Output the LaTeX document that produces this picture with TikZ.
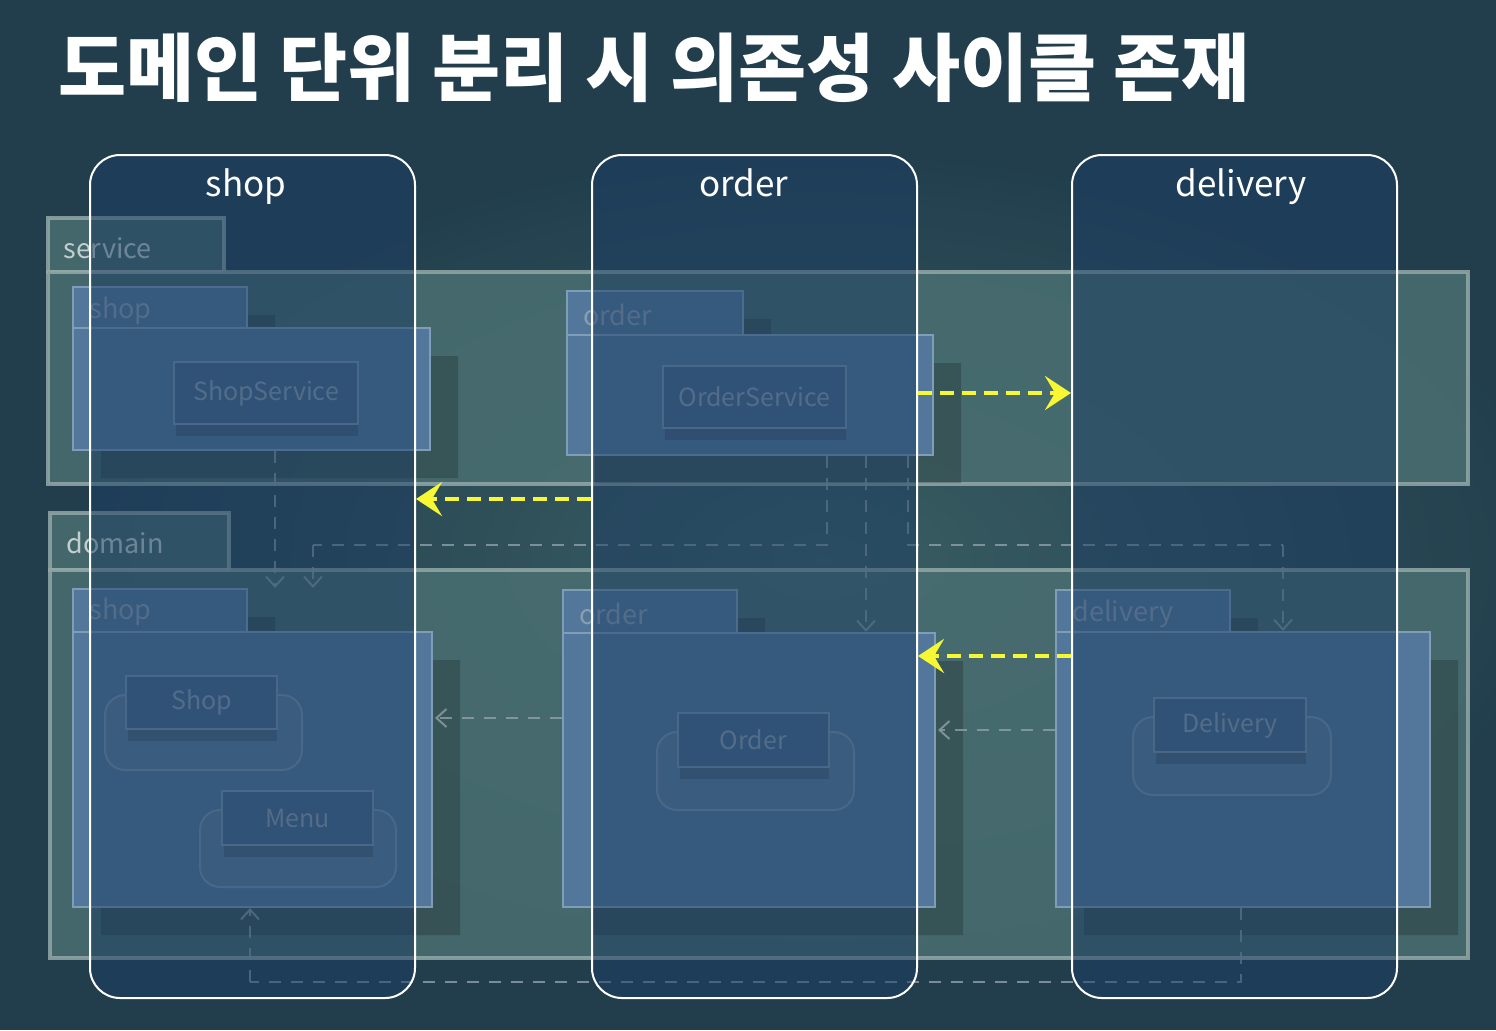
\documentclass[tikz,border=0pt]{standalone}
\usepackage{fontspec}
\setmainfont{Noto Sans CJK KR}
\newfontfamily\kr{Noto Sans CJK KR}
\usetikzlibrary{arrows.meta,fit}
\definecolor{bgA}{HTML}{223E4D}
\definecolor{bgB}{HTML}{3E6467}
\definecolor{bigfill}{HTML}{4A6F71}
\definecolor{bigline}{HTML}{93A8A8}
\definecolor{pkgfill}{HTML}{52779A}
\definecolor{pkgline}{HTML}{809DB8}
\definecolor{clsfill}{HTML}{46698B}
\definecolor{clsback}{HTML}{5A7C9B}
\definecolor{clsline}{HTML}{7893AD}
\definecolor{txtgray}{HTML}{8A9DB0}
\definecolor{biglbl}{HTML}{C2CFCF}
\definecolor{colfill}{HTML}{1C3D63}
\definecolor{depgray}{HTML}{8FA0AA}
\definecolor{yel}{HTML}{F7F733}
\begin{document}
\begin{tikzpicture}[x=0.5pt,y=-0.5pt,
  bigbox/.style={draw=bigline,draw opacity=0.85,line width=1.6pt,fill=bigfill,fill opacity=0.85,inner sep=0pt},
  pkgbox/.style={draw=pkgline,line width=1pt,fill=pkgfill,inner sep=0pt},
  pkgshadow/.style={fill=black,opacity=0.2},
  clsbox/.style={draw=clsline,line width=0.9pt,fill=clsfill,inner sep=0pt,font=\fontsize{12.5}{14}\selectfont,text=txtgray},
  clsbackbox/.style={draw=clsline,line width=1pt,fill=clsback,rounded corners=10pt,inner sep=0pt},
  clsshadow/.style={fill=black,opacity=0.18},
  biglabel/.style={anchor=west,inner sep=0pt,text=biglbl,font=\fontsize{13.5}{15}\selectfont},
  pkglabel/.style={anchor=west,inner sep=0pt,text=txtgray,font=\fontsize{13.5}{15}\selectfont},
  column/.style={draw=white,line width=1pt,rounded corners=15pt,fill=colfill,fill opacity=0.5,inner sep=0pt},
  collabel/.style={anchor=base,text=white,inner sep=0pt,font=\fontsize{17.5}{20}\selectfont},
  dep/.style={draw=depgray,draw opacity=0.8,line width=1pt,dash pattern=on 6pt off 5pt,-{Straight Barb[length=5pt,width=9pt]}},
  depline/.style={draw=depgray,draw opacity=0.8,line width=1pt,dash pattern=on 6pt off 5pt},
  yarrow/.style={draw=yel,line width=2.2pt,dash pattern=on 7pt off 4pt,-{Stealth[length=13pt,width=17pt,inset=5pt]}}
]
\useasboundingbox (0,0) rectangle (1496,1030);
% background
\fill[bgA] (0,0) rectangle (1496,1030);
\shade[inner color=bgB,outer color=bgA,opacity=0.85] (820,560) ellipse [x radius=760, y radius=420];

% big packages
\node[bigbox,fit={(48,218)(224,272)}] (svctab) {};
\node[bigbox,fit={(48,272)(1468,484)}] (svc) {};
\node[biglabel] (svclbl) at (63,248) {service};
\node[bigbox,fit={(50,513)(229,570)}] (domtab) {};
\node[bigbox,fit={(50,570)(1468,958)}] (dom) {};
\node[biglabel] (domlbl) at (66,543) {domain};

% package shadows
\fill[pkgshadow] (101,315) rectangle (275,356) (101,356) rectangle (458,478);
\fill[pkgshadow] (595,319) rectangle (771,363) (595,363) rectangle (961,483);
\fill[pkgshadow] (101,617) rectangle (275,660) (101,660) rectangle (460,935);
\fill[pkgshadow] (591,618) rectangle (765,661) (591,661) rectangle (963,935);
\fill[pkgshadow] (1084,618) rectangle (1258,660) (1084,660) rectangle (1458,935);

% service packages
\node[pkgbox,fit={(73,287)(247,328)}] (sshoptab) {};
\node[pkgbox,fit={(73,328)(430,450)}] (sshop) {};
\node[pkglabel] (sshoplbl) at (89,311) {shop};
\node[pkgbox,fit={(567,291)(743,335)}] (sordertab) {};
\node[pkgbox,fit={(567,335)(933,455)}] (sorder) {};
\node[pkglabel] (sorderlbl) at (583,315) {order};

% domain packages
\node[pkgbox,fit={(73,589)(247,632)}] (dshoptab) {};
\node[pkgbox,fit={(73,632)(432,907)}] (dshop) {};
\node[pkglabel] (dshoplbl) at (89,612) {shop};
\node[pkgbox,fit={(563,590)(737,633)}] (dordertab) {};
\node[pkgbox,fit={(563,633)(935,907)}] (dorder) {};
\node[pkglabel] (dorderlbl) at (579,614) {order};
\node[pkgbox,fit={(1056,590)(1230,632)}] (ddeltab) {};
\node[pkgbox,fit={(1056,632)(1430,907)}] (ddel) {};
\node[pkglabel] (ddellbl) at (1072,614) {delivery};

% classes
\fill[clsshadow] (176,424) rectangle (358,436);
\node[clsbox,fit={(174,362)(358,424)}] (ShopService) {};
\node[clsbox,draw=none,fill=none] at (ShopService.center) {ShopService};
\fill[clsshadow] (665,428) rectangle (846,440);
\node[clsbox,fit={(663,366)(846,428)}] (OrderService) {};
\node[clsbox,draw=none,fill=none] at (OrderService.center) {OrderService};

\node[clsbackbox,fit={(105,695)(302,770)}] (Shopback) {};
\fill[clsshadow] (128,729) rectangle (277,741);
\node[clsbox,fit={(126,676)(277,729)}] (Shop) {};
\node[clsbox,draw=none,fill=none] at (Shop.center) {Shop};

\node[clsbackbox,fit={(200,810)(396,887)}] (Menuback) {};
\fill[clsshadow] (224,845) rectangle (373,857);
\node[clsbox,fit={(222,791)(373,845)}] (Menu) {};
\node[clsbox,draw=none,fill=none] at (Menu.center) {Menu};

\node[clsbackbox,fit={(657,732)(854,810)}] (Orderback) {};
\fill[clsshadow] (680,767) rectangle (829,779);
\node[clsbox,fit={(678,713)(829,767)}] (Order) {};
\node[clsbox,draw=none,fill=none] at (Order.center) {Order};

\node[clsbackbox,fit={(1133,717)(1331,795)}] (Deliveryback) {};
\fill[clsshadow] (1156,752) rectangle (1306,764);
\node[clsbox,fit={(1154,698)(1306,752)}] (Delivery) {};
\node[clsbox,draw=none,fill=none] at (Delivery.center) {Delivery};

% dependency connectors (gray dashed)
\coordinate (x275) at (275,0);
\coordinate (x827) at (827,0);
\coordinate (x866) at (866,0);
\coordinate (x908) at (908,0);
\coordinate (x1241) at (1241,0);
\coordinate (bendL) at (313,545);
\coordinate (bendR) at (1283,545);
\coordinate (bendB) at (250,982);
\coordinate (y718) at (0,718);
\coordinate (y730) at (0,730);
\draw[dep] (sshop.south -| x275) -- (dshoptab.north -| x275);
\draw[depline] (sorder.south -| x827) |- (bendL);
\draw[dep] (bendL) -- (dshoptab.north -| bendL);
\draw[dep] (sorder.south -| x866) -- (dorder.north -| x866);
\draw[depline] (sorder.south -| x908) |- (bendR);
\draw[dep] (bendR) -- (ddel.north -| bendR);
\draw[dep] (dorder.west |- y718) -- ([xshift=1pt]dshop.east |- y718);
\draw[dep] (ddel.west |- y730) -- ([xshift=1pt]dorder.east |- y730);
\draw[depline] (ddel.south -| x1241) |- (bendB);
\draw[dep] (bendB) -- (dshop.south -| bendB);

% columns
\node[column,fit={(90,155)(415,998)}] (colshop) {};
\node[column,fit={(592,155)(917,998)}] (colorder) {};
\node[column,fit={(1072,155)(1397,998)}] (coldel) {};
\node[collabel] (lshop) at (246,196) {shop};
\node[collabel] (lorder) at (744,196) {order};
\node[collabel] (ldel) at (1241,196) {delivery};

% cycle arrows (yellow)
\coordinate (y393) at (0,393);
\coordinate (y499) at (0,499);
\coordinate (y656) at (0,656);
\draw[yarrow] (colorder.east |- y393) -- (coldel.west |- y393);
\draw[yarrow] (colorder.west |- y499) -- (colshop.east |- y499);
\draw[yarrow] (coldel.west |- y656) -- (colorder.east |- y656);

% title
\node[anchor=west,inner sep=0pt,text=white,font=\kr\bfseries\fontsize{37}{42}\selectfont] (title) at (58,68) {도메인 단위 분리 시 의존성 사이클 존재};
\end{tikzpicture}
\end{document}
